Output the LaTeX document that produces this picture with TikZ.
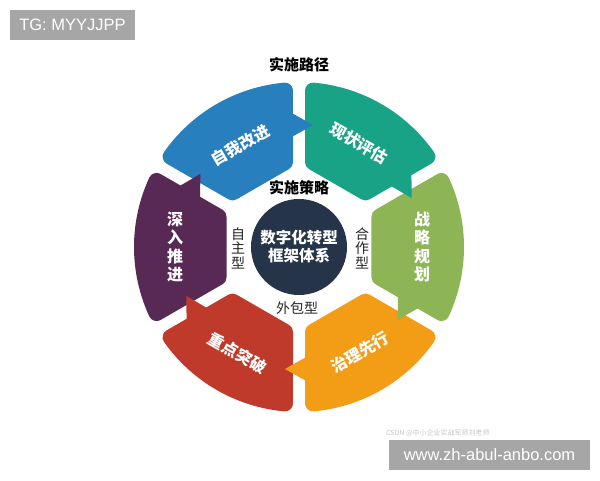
\documentclass[tikz,border=0pt]{standalone}
\usepackage{fontspec}
\setmainfont{Liberation Sans}
\newfontfamily\cjk{Noto Sans CJK SC}
\definecolor{cblue}{RGB}{40,127,190}
\definecolor{cteal}{RGB}{24,162,134}
\definecolor{cgreen}{RGB}{141,181,86}
\definecolor{corange}{RGB}{243,156,22}
\definecolor{cred}{RGB}{192,58,43}
\definecolor{cpurple}{RGB}{88,41,84}
\definecolor{cnavy}{RGB}{37,52,72}
\definecolor{cbox}{RGB}{166,166,166}
\begin{document}
\begin{tikzpicture}[x=1pt,y=1pt,
  segment/.style={line width=16pt, line join=round},
  seglabel/.style={text=white, font=\cjk\bfseries\fontsize{16}{18.5}\selectfont, inner sep=0pt, align=center},
  sidelabel/.style={text=black!85, font=\cjk\fontsize{14}{14.5}\selectfont, inner sep=0pt, align=center},
  titlelabel/.style={text=black, font=\cjk\bfseries\fontsize{15}{17}\selectfont, inner sep=0pt},
  graybox/.style={fill=cbox, text=white, inner sep=0pt, font=\fontsize{16.5}{18}\selectfont}
]
\useasboundingbox (0,0) rectangle (600,480);
\fill[white] (0,0) rectangle (600,480);

% ring
\begin{scope}[shift={(299,233)}]
  \foreach \a/\c in {120/cblue,60/cteal,0/cgreen,-60/corange,-120/cred,180/cpurple}{
    \filldraw[segment, \c] (\a+20.63:86) -- (\a+24.88:157)
      arc[start angle=\a+24.88, end angle=\a-24.88, radius=157]
      -- (\a-20.63:86) -- cycle;
  }
  \foreach \a/\c in {90/cblue,30/cteal,-30/cgreen,-90/corange,-150/cred,150/cpurple}{
    \fill[\c, rotate=\a] (109,9) -- (135,9) -- (122,-14) -- cycle;
  }
  \node[seglabel, rotate=30]  (s1) at (120:117) {自我改进};
  \node[seglabel, rotate=-30] (s2) at (60:120)  {现状评估};
  \node[seglabel]             (s3) at (0:123)   {战\\略\\规\\划};
  \node[seglabel, rotate=30]  (s4) at (-60:122) {治理先行};
  \node[seglabel, rotate=-30] (s5) at (-120:123){重点突破};
  \node[seglabel]             (s6) at (180:124) {深\\入\\推\\进};
  \node[circle, fill=cnavy, minimum size=96pt, inner sep=0pt, text=white,
        font=\cjk\bfseries\fontsize{15.5}{18}\selectfont, align=center] (core) at (0,0) {数字化转型\\框架体系};
\end{scope}

\node[titlelabel] (path) at (299,415) {实施路径};
\node[titlelabel] (strat) at (299,292) {实施策略};
\node[sidelabel] (own) at (238,232) {自\\主\\型};
\node[sidelabel] (coop) at (362,232) {合\\作\\型};
\node[sidelabel] (out) at (297,172) {外包型};

% watermarks
\node[graybox, minimum width=125pt, minimum height=30pt] (tg) at (72.5,455) {TG: MYYJJPP};
\node[anchor=west, text=black!22, font=\cjk\fontsize{7}{8}\selectfont, inner sep=0pt] (wm) at (386,47) {CSDN @中小企业实战军师刘老师};
\node[graybox, minimum width=201pt, minimum height=30pt] (www) at (489.5,25) {www.zh-abul-anbo.com};
\end{tikzpicture}
\end{document}
